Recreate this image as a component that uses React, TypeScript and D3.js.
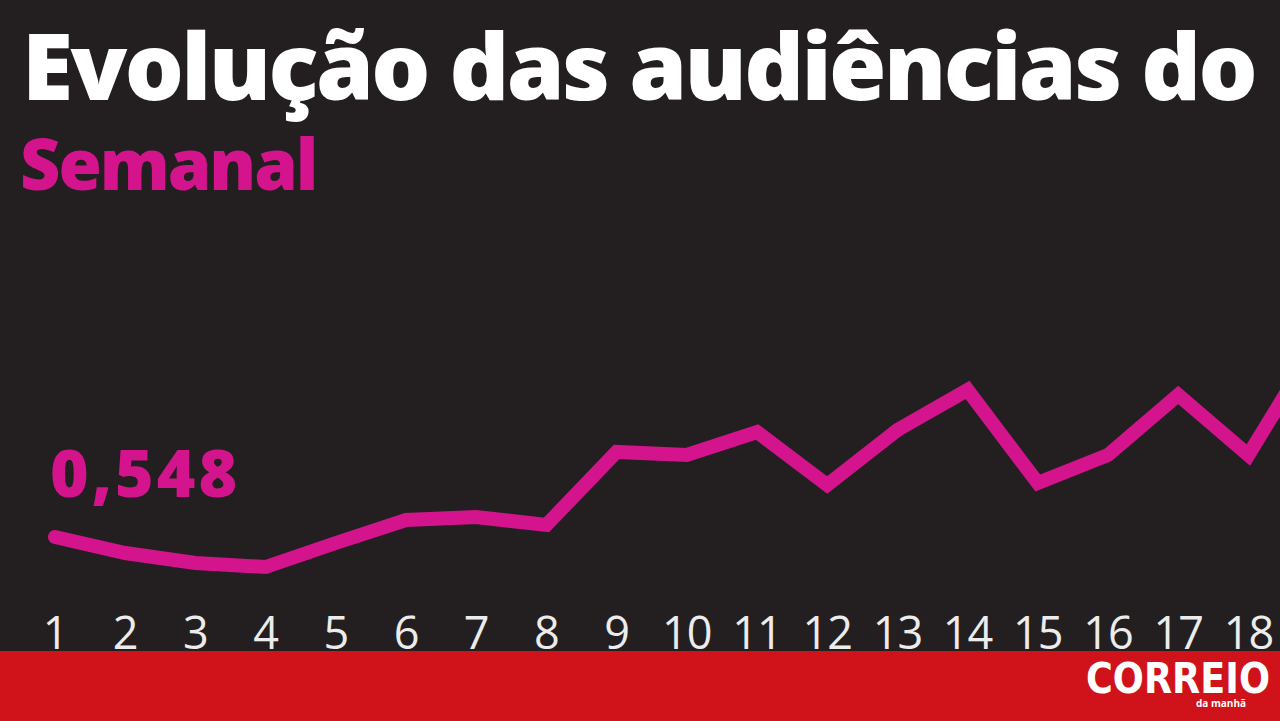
import React from "react";
import * as d3 from "d3";

const weeks = [1, 2, 3, 4, 5, 6, 7, 8, 9, 10, 11, 12, 13, 14, 15, 16, 17, 18, 19];
const audience = [0.548, 0.532, 0.522, 0.518, 0.542, 0.565, 0.568, 0.56, 0.633, 0.63, 0.653, 0.6, 0.655, 0.695, 0.602, 0.63, 0.69, 0.63, 0.745];
const tickLabels = ["1", "2", "3", "4", "5", "6", "7", "8", "9", "10", "11", "12", "13", "14", "15", "16", "17", "18", "19"];
const titleText = "Evolução das audiências do CMTV";
const subtitleText = "Semanal";
const firstLabel = "0,548";

const W = 1280;
const H = 721;

export default function App() {
  const x = d3.scalePoint<number>().domain(weeks).range([55, 55 + 18 * 70.2]);
  const y = d3.scaleLinear().domain([0.4, 0.9]).range([685, 185]);
  const line = d3
    .line<number>()
    .x((_, i) => x(weeks[i]) as number)
    .y((d) => y(d));
  const magenta = "#d4148c";
  return (
    <div style={{ position: "absolute", left: 0, top: 0, width: W, height: H, overflow: "hidden" }}>
      <svg width={W} height={H} viewBox={`0 0 ${W} ${H}`} style={{ display: "block" }}>
        <rect x={0} y={0} width={W} height={H} fill="#231f20" />
        <text
          x={22}
          y={100}
          fill="#ffffff"
          fontFamily="'Open Sans', sans-serif"
          fontWeight={800}
          fontSize={93}
          letterSpacing={-2.6}
        >
          {titleText}
        </text>
        <text
          x={20}
          y={190}
          fill={magenta}
          fontFamily="'Open Sans', sans-serif"
          fontWeight={800}
          fontSize={70}
          letterSpacing={-2}
        >
          {subtitleText}
        </text>
        <path
          d={line(audience) || ""}
          fill="none"
          stroke={magenta}
          strokeWidth={14}
          strokeLinejoin="miter"
          strokeLinecap="round"
        />
        <text
          x={50}
          y={497}
          fill={magenta}
          fontFamily="'Open Sans', sans-serif"
          fontWeight={800}
          fontSize={66}
          letterSpacing={3}
        >
          {firstLabel}
        </text>
        {weeks.map((w, i) => (
          <text
            key={w}
            x={x(w) as number}
            y={649}
            textAnchor="middle"
            fill="#ececec"
            fontFamily="'Open Sans', sans-serif"
            fontWeight={500}
            fontSize={45}
            letterSpacing={-1}
          >
            {tickLabels[i]}
          </text>
        ))}
        <rect x={0} y={651} width={W} height={H - 651} fill="#d0121b" />
        <text
          x={1178}
          y={693}
          textAnchor="middle"
          fill="#ffffff"
          fontFamily="'DejaVu Sans', sans-serif"
          fontWeight={900}
          fontSize={42}
          textLength={184}
          lengthAdjust="spacingAndGlyphs"
        >
          CORREIO
        </text>
        <text
          x={1196}
          y={707}
          fill="#ffffff"
          fontFamily="'Open Sans', sans-serif"
          fontWeight={700}
          fontSize={10}
        >
          da manhã
        </text>
      </svg>
    </div>
  );
}
